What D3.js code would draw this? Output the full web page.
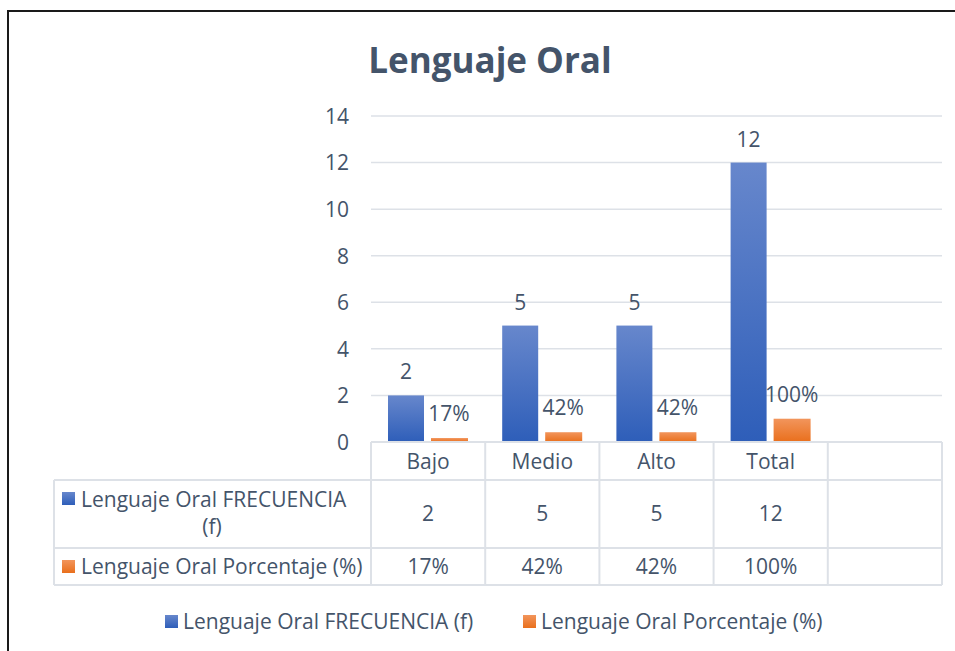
<!DOCTYPE html>
<html><head><meta charset="utf-8">
<script src="https://cdn.jsdelivr.net/npm/d3@7"></script>
<style>body{margin:0;background:#fff}svg{display:block}</style>
</head><body>
<svg id="c" width="955" height="651"></svg>
<script>
const categories = ["Bajo", "Medio", "Alto", "Total", ""];
const seriesNames = ["Lenguaje Oral FRECUENCIA (f)", "Lenguaje Oral Porcentaje (%)"];
const frecuencia = [2, 5, 5, 12, null];
const porcentaje = [0.17, 0.42, 0.42, 1.0, null];
const frecuenciaLabels = ["2", "5", "5", "12", ""];
const porcentajeLabels = ["17%", "42%", "42%", "100%", ""];
const yTicks = [0, 2, 4, 6, 8, 10, 12, 14];
const title = "Lenguaje Oral";

const svg = d3.select("#c");
const FONT = "'Open Sans', 'Noto Sans', sans-serif";
const TXT = "#44546A";
const GRID = "#DDE1E7";
const FS = 21;

// frame
svg.append("rect").attr("x", 8).attr("y", 11).attr("width", 960).attr("height", 660)
  .attr("fill", "#fff").attr("stroke", "#1a1a1a").attr("stroke-width", 2);

const defs = svg.append("defs");
const gb = defs.append("linearGradient").attr("id", "gBlue").attr("x1", 0).attr("y1", 0).attr("x2", 0).attr("y2", 1);
gb.append("stop").attr("offset", "0%").attr("stop-color", "#6787CC");
gb.append("stop").attr("offset", "100%").attr("stop-color", "#2E5EB9");
const go = defs.append("linearGradient").attr("id", "gOrange").attr("x1", 0).attr("y1", 0).attr("x2", 0).attr("y2", 1);
go.append("stop").attr("offset", "0%").attr("stop-color", "#F2955C");
go.append("stop").attr("offset", "100%").attr("stop-color", "#E96F1C");

const plot = {left: 371, right: 942, top: 116, bottom: 442};
const x = d3.scaleBand().domain(d3.range(categories.length)).range([plot.left, plot.right]).padding(0);
const y = d3.scaleLinear().domain([0, 14]).range([plot.bottom, plot.top]);

// title
svg.append("text").attr("x", 490).attr("y", 73).attr("text-anchor", "middle")
  .attr("font-family", FONT).attr("font-weight", "bold").attr("font-size", 35)
  .attr("fill", TXT).text(title);

// gridlines
svg.append("g").selectAll("line").data(yTicks.filter(d => d > 0)).join("line")
  .attr("x1", plot.left).attr("x2", plot.right)
  .attr("y1", d => y(d)).attr("y2", d => y(d))
  .attr("stroke", GRID).attr("stroke-width", 1.5);

// y axis labels
const yAxis = d3.axisLeft(y).tickValues(yTicks).tickSize(0).tickPadding(0);
const ya = svg.append("g").attr("transform", `translate(349,0)`).call(yAxis);
ya.select(".domain").remove();
ya.selectAll("text").attr("font-family", FONT).attr("font-size", FS).attr("fill", TXT).attr("dy", "0.35em");

// bars
const bw = 36, off1 = 17, off2 = 60;
const idx = d3.range(categories.length).filter(i => frecuencia[i] != null);
svg.append("g").selectAll("rect").data(idx).join("rect")
  .attr("x", i => x(i) + off1).attr("width", bw)
  .attr("y", i => y(frecuencia[i])).attr("height", i => y(0) - y(frecuencia[i]))
  .attr("fill", "url(#gBlue)");
svg.append("g").selectAll("rect").data(idx).join("rect")
  .attr("x", i => x(i) + off2).attr("width", bw + 1)
  .attr("y", i => y(porcentaje[i])).attr("height", i => y(0) - y(porcentaje[i]))
  .attr("fill", "url(#gOrange)");

// data labels
svg.append("g").selectAll("text").data(idx).join("text")
  .attr("x", i => x(i) + off1 + bw / 2).attr("y", i => y(frecuencia[i]) - 16)
  .attr("text-anchor", "middle").attr("font-family", FONT).attr("font-size", FS).attr("fill", TXT)
  .text(i => frecuenciaLabels[i]);
svg.append("g").selectAll("text").data(idx).join("text")
  .attr("x", i => x(i) + off2 + bw / 2).attr("y", i => y(porcentaje[i]) - 17)
  .attr("text-anchor", "middle").attr("font-family", FONT).attr("font-size", FS).attr("fill", TXT)
  .text(i => porcentajeLabels[i]);

// data table
const rowY = [442, 480, 548, 585];
const tableLeft = 54;
const tg = svg.append("g").attr("stroke", GRID).attr("stroke-width", 2).attr("fill", "none");
tg.append("line").attr("x1", plot.left).attr("x2", plot.right).attr("y1", rowY[0]).attr("y2", rowY[0]);
[1, 2, 3].forEach(r => tg.append("line").attr("x1", tableLeft).attr("x2", plot.right).attr("y1", rowY[r]).attr("y2", rowY[r]));
const colEdges = d3.range(categories.length).map(i => x(i)).concat([plot.right]);
colEdges.forEach(cx => tg.append("line").attr("x1", cx).attr("x2", cx).attr("y1", rowY[0]).attr("y2", rowY[3]));
tg.append("line").attr("x1", tableLeft).attr("x2", tableLeft).attr("y1", rowY[1]).attr("y2", rowY[3]);

// header text
svg.append("g").selectAll("text").data(categories).join("text")
  .attr("x", (d, i) => x(i) + x.bandwidth() / 2).attr("y", 469)
  .attr("text-anchor", "middle").attr("font-family", FONT).attr("font-size", FS).attr("fill", TXT)
  .text(d => d);
svg.append("g").selectAll("text").data(frecuenciaLabels).join("text")
  .attr("x", (d, i) => x(i) + x.bandwidth() / 2).attr("y", 521)
  .attr("text-anchor", "middle").attr("font-family", FONT).attr("font-size", FS).attr("fill", TXT)
  .text(d => d);
svg.append("g").selectAll("text").data(porcentajeLabels).join("text")
  .attr("x", (d, i) => x(i) + x.bandwidth() / 2).attr("y", 574)
  .attr("text-anchor", "middle").attr("font-family", FONT).attr("font-size", FS).attr("fill", TXT)
  .text(d => d);

// row headers
svg.append("rect").attr("x", 62).attr("y", 492).attr("width", 13).attr("height", 13).attr("fill", "url(#gBlue)");
svg.append("text").attr("x", 81).attr("y", 507).attr("font-family", FONT).attr("font-size", FS).attr("fill", TXT)
  .text("Lenguaje Oral FRECUENCIA");
svg.append("text").attr("x", 212).attr("y", 534).attr("text-anchor", "middle").attr("font-family", FONT).attr("font-size", FS).attr("fill", TXT)
  .text("(f)");
svg.append("rect").attr("x", 62).attr("y", 560).attr("width", 13).attr("height", 13).attr("fill", "url(#gOrange)");
svg.append("text").attr("x", 81).attr("y", 574).attr("font-family", FONT).attr("font-size", FS).attr("fill", TXT)
  .text(seriesNames[1]);

// legend
const legX = [165, 523];
const lg = svg.append("g").selectAll("g").data(seriesNames).join("g")
  .attr("transform", (d, i) => `translate(${legX[i]},615)`);
lg.append("rect").attr("width", 13).attr("height", 13).attr("fill", (d, i) => i === 0 ? "url(#gBlue)" : "url(#gOrange)");
lg.append("text").attr("x", 18).attr("y", 14).attr("font-family", FONT).attr("font-size", FS).attr("fill", TXT).text(d => d);
</script>
</body></html>
